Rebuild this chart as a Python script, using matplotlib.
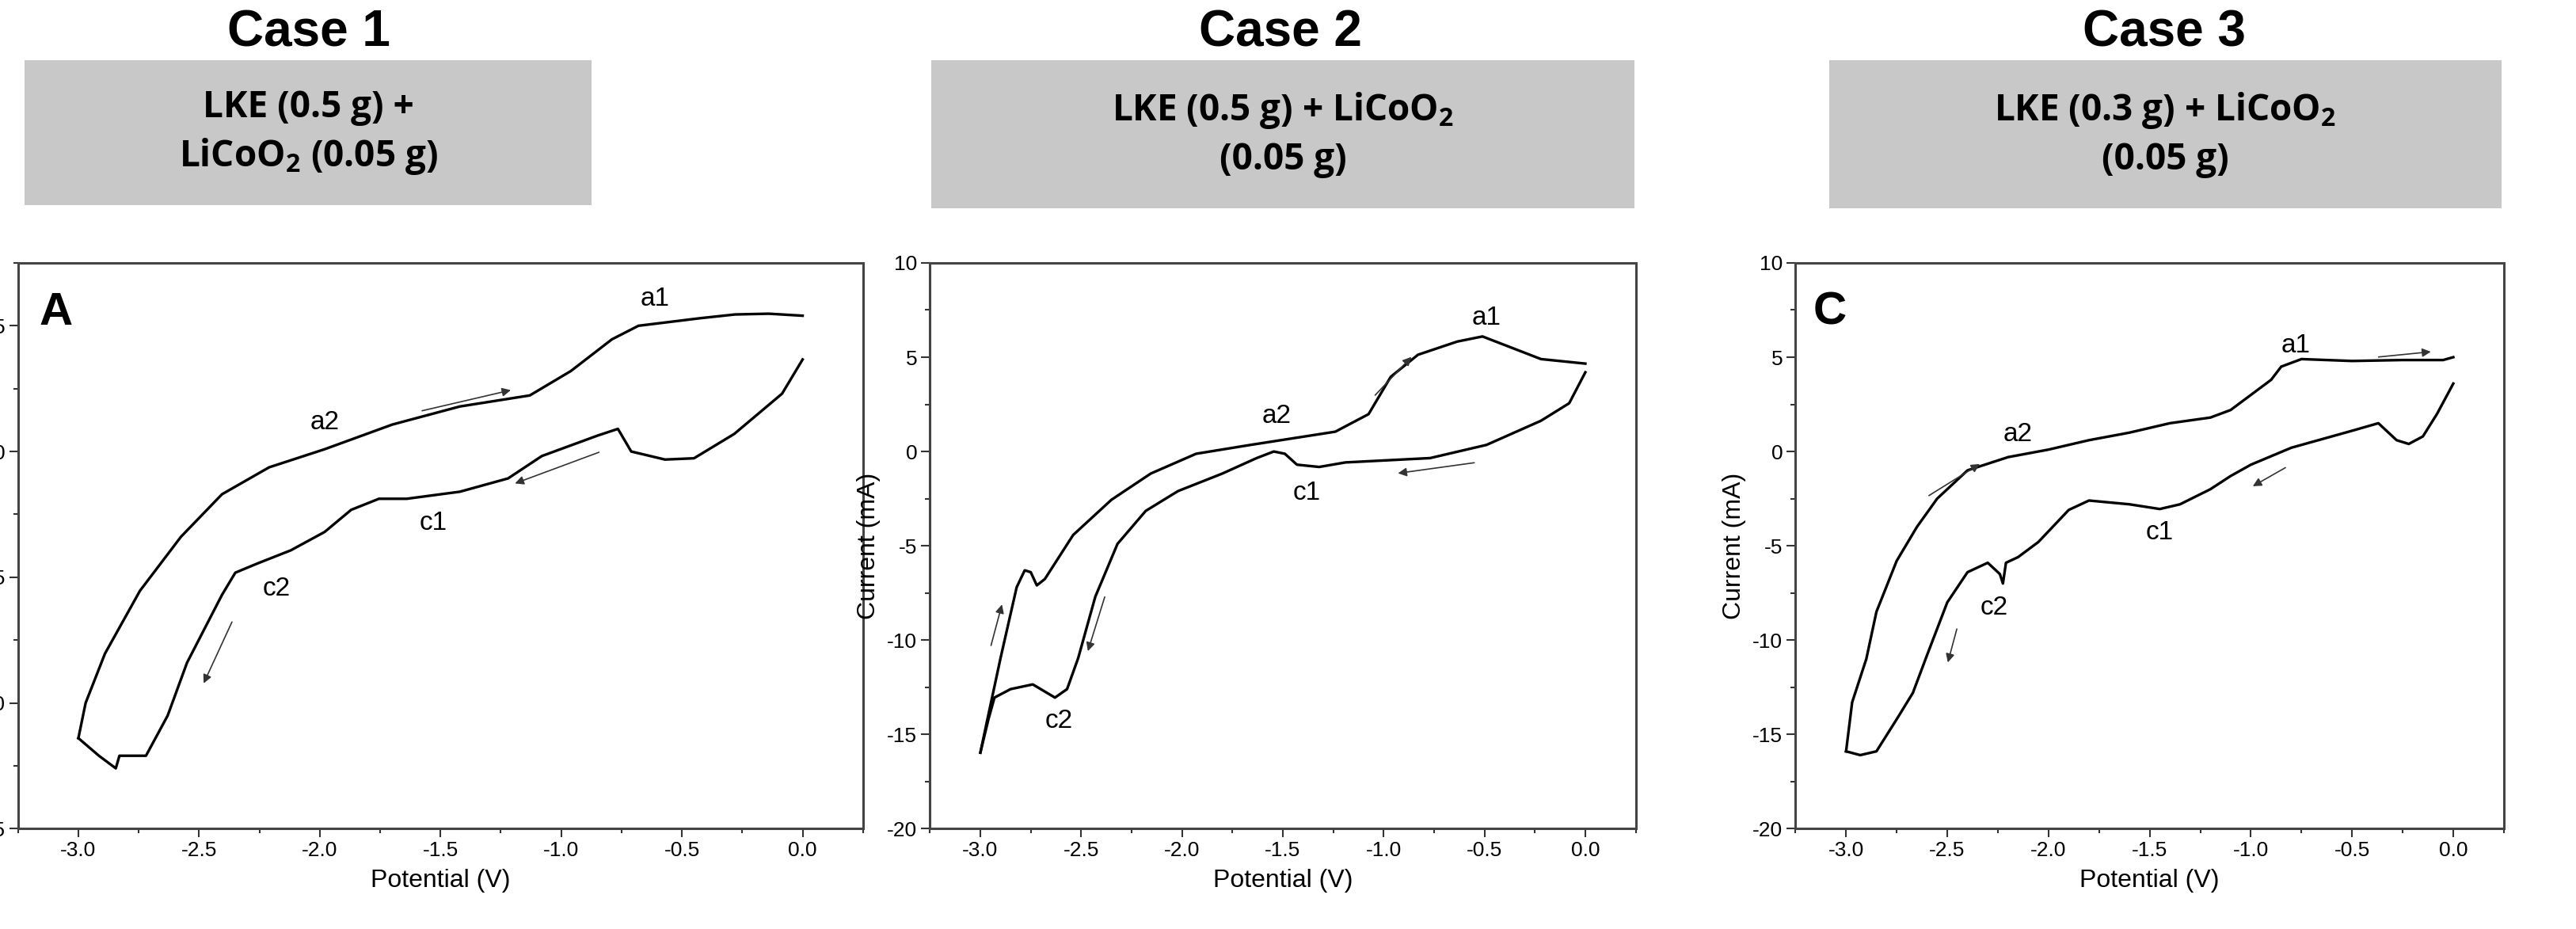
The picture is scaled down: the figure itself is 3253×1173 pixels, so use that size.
import matplotlib
matplotlib.use("Agg")
import matplotlib.pyplot as plt
from matplotlib.patches import Rectangle
from matplotlib.ticker import MultipleLocator

plt.rcParams["font.family"] = "Liberation Sans"
plt.rcParams["mathtext.default"] = "regular"
plt.rcParams["axes.unicode_minus"] = False

# ---- data (potential V, current mA) ----
a_low_x = [0, -0.085, -0.283, -0.45, -0.57, -0.71, -0.765, -0.85, -1.08, -1.22, -1.42, -1.64, -1.755, -1.87,
           -1.98, -2.12, -2.26, -2.35, -2.405, -2.55, -2.63, -2.72, -2.83, -2.845, -2.915, -3.0]
a_low_y = [3.66, 2.3, 0.7, -0.27, -0.32, 0, 0.9, 0.63, -0.18, -1.07, -1.6, -1.88, -1.88, -2.32,
           -3.2, -3.93, -4.46, -4.82, -5.7, -8.4, -10.5, -12.1, -12.1, -12.6, -12.1, -11.4]
a_up_x = [-3.0, -2.97, -2.89, -2.745, -2.575, -2.405, -2.21, -1.98, -1.70, -1.42, -1.13, -0.96, -0.79,
          -0.68, -0.425, -0.28, -0.14, 0]
a_up_y = [-11.4, -10, -8.04, -5.54, -3.39, -1.7, -0.63, 0.09, 1.07, 1.79, 2.23, 3.2, 4.46,
          5.0, 5.3, 5.45, 5.48, 5.4]

b_low_x = [0, -0.08, -0.22, -0.49, -0.77, -1.19, -1.32, -1.43, -1.49, -1.545, -1.63, -1.80, -2.02, -2.18,
           -2.32, -2.43, -2.515, -2.57, -2.63, -2.74, -2.85, -2.93, -2.96, -3.0]
b_low_y = [4.2, 2.56, 1.63, 0.35, -0.35, -0.58, -0.82, -0.7, -0.12, 0, -0.35, -1.17, -2.1, -3.15,
           -4.9, -7.7, -10.96, -12.6, -13.05, -12.35, -12.6, -13.05, -14.2, -15.97]
b_up_x = [-3.0, -2.97, -2.90, -2.82, -2.78, -2.75, -2.72, -2.68, -2.54, -2.35, -2.155, -1.93, -1.66,
          -1.24, -1.075, -0.965, -0.83, -0.635, -0.51, -0.36, -0.22, 0]
b_up_y = [-15.97, -14.45, -10.96, -7.2, -6.3, -6.4, -7.1, -6.76, -4.43, -2.56, -1.17, -0.12, 0.35,
          1.05, 1.98, 3.96, 5.13, 5.83, 6.1, 5.48, 4.9, 4.66]

c_low_x = [0, -0.08, -0.15, -0.22, -0.28, -0.33, -0.37, -0.5, -0.8, -1.0, -1.1, -1.2, -1.35, -1.45, -1.6,
           -1.8, -1.9, -2.05, -2.15, -2.21, -2.225, -2.24, -2.3, -2.4, -2.5, -2.6, -2.67, -2.75, -2.85,
           -2.93, -3.0]
c_low_y = [3.6, 2.0, 0.8, 0.4, 0.6, 1.1, 1.5, 1.1, 0.2, -0.7, -1.3, -2.0, -2.8, -3.05, -2.8,
           -2.6, -3.1, -4.8, -5.6, -5.9, -7.0, -6.5, -5.9, -6.4, -8.0, -10.8, -12.8, -14.2, -15.9,
           -16.1, -15.9]
c_up_x = [-3.0, -2.97, -2.9, -2.85, -2.75, -2.65, -2.55, -2.4, -2.2, -2.0, -1.8, -1.6, -1.4, -1.2, -1.1,
          -1.0, -0.9, -0.85, -0.75, -0.5, -0.25, -0.05, 0]
c_up_y = [-15.9, -13.3, -11.0, -8.5, -5.8, -4.0, -2.5, -1.0, -0.3, 0.1, 0.6, 1.0, 1.5, 1.8, 2.2,
          3.0, 3.8, 4.5, 4.9, 4.8, 4.85, 4.85, 5.0]

titles = ["Case 1", "Case 2", "Case 3"]
boxes = ["LKE (0.5 g) +\nLiCoO$_2$ (0.05 g)", "LKE (0.5 g) + LiCoO$_2$\n(0.05 g)",
         "LKE (0.3 g) + LiCoO$_2$\n(0.05 g)"]
letters = ["A", "", "C"]
ylims = [(-15, 7.5), (-20, 10), (-20, 10)]
peaks = [
    {"a1": (-0.61, 6.07), "a2": (-1.98, 1.16), "c1": (-1.53, -2.86), "c2": (-2.18, -5.45)},
    {"a1": (-0.49, 7.1), "a2": (-1.53, 1.86), "c1": (-1.38, -2.2), "c2": (-2.61, -14.3)},
    {"a1": (-0.78, 5.6), "a2": (-2.15, 0.9), "c1": (-1.45, -4.3), "c2": (-2.27, -8.3)},
]
arrows = [
    [((-1.585, 1.6), (-1.2, 2.46)), ((-0.835, 0), (-1.2, -1.3)), ((-2.36, -6.7), (-2.485, -9.3))],
    [((-1.05, 2.9), (-0.855, 5.1)), ((-0.54, -0.58), (-0.94, -1.17)), ((-2.38, -7.6), (-2.47, -10.7)),
     ((-2.95, -10.4), (-2.89, -8.0))],
    [((-0.38, 5.0), (-0.1, 5.3)), ((-0.82, -0.8), (-1.0, -1.9)), ((-2.45, -9.3), (-2.5, -11.3)),
     ((-2.6, -2.4), (-2.33, -0.6))],
]
curves = [(a_low_x, a_low_y, a_up_x, a_up_y), (b_low_x, b_low_y, b_up_x, b_up_y),
          (c_low_x, c_low_y, c_up_x, c_up_y)]

fig = plt.figure(figsize=(32.53, 11.73), dpi=100)

ax_rects = [(0.007, 0.108, 0.328, 0.609), (0.361, 0.108, 0.274, 0.609), (0.697, 0.108, 0.275, 0.609)]
box_rects = [(0.0096, 0.779, 0.22, 0.156), (0.3616, 0.776, 0.273, 0.159), (0.71, 0.776, 0.261, 0.159)]
title_x = [0.12, 0.497, 0.84]

for i in range(3):
    ax = fig.add_axes(ax_rects[i])
    lx, ly, ux, uy = curves[i]
    ax.plot(lx, ly, color="black", lw=2.4)
    ax.plot(ux, uy, color="black", lw=2.4)
    ax.set_xlim(-3.25, 0.25)
    ax.set_ylim(*ylims[i])
    ax.xaxis.set_major_locator(MultipleLocator(0.5))
    ax.xaxis.set_minor_locator(MultipleLocator(0.25))
    ax.yaxis.set_major_locator(MultipleLocator(5))
    ax.yaxis.set_minor_locator(MultipleLocator(2.5))
    ax.tick_params(which="both", direction="out", labelsize=19, color="#333333", width=1.5)
    ax.tick_params(which="major", length=8)
    ax.tick_params(which="minor", length=4)
    ax.set_xticklabels([f"{v:.1f}" for v in ax.get_xticks()])
    for s in ax.spines.values():
        s.set_linewidth(2.2)
        s.set_color("#444444")
    ax.set_xlabel("Potential (V)", fontsize=23, labelpad=8)
    if i > 0:
        ax.set_ylabel("Current (mA)", fontsize=23, labelpad=6)
    if letters[i]:
        ax.text(0.025, 0.95, letters[i], transform=ax.transAxes, fontsize=42, weight="bold",
                ha="left", va="top")
    for name, (px, py) in peaks[i].items():
        ax.text(px, py, name, fontsize=24, ha="center", va="center")
    for (x0, y0), (x1, y1) in arrows[i]:
        ax.annotate("", xy=(x1, y1), xytext=(x0, y0),
                    arrowprops=dict(arrowstyle="-|>", color="#333333", lw=1.2, mutation_scale=16))

    bx, by, bw, bh = box_rects[i]
    fig.patches.append(Rectangle((bx, by), bw, bh, transform=fig.transFigure,
                                 facecolor="#c8c8c8", edgecolor="none"))
    fig.text(bx + bw / 2, by + bh / 2, boxes[i], fontsize=33, weight="bold", ha="center",
             va="center", family="Open Sans", linespacing=1.35)
    fig.text(title_x[i], 0.965, titles[i], fontsize=46, weight="bold", ha="center", va="center")

fig.savefig("out.png", dpi=100)
